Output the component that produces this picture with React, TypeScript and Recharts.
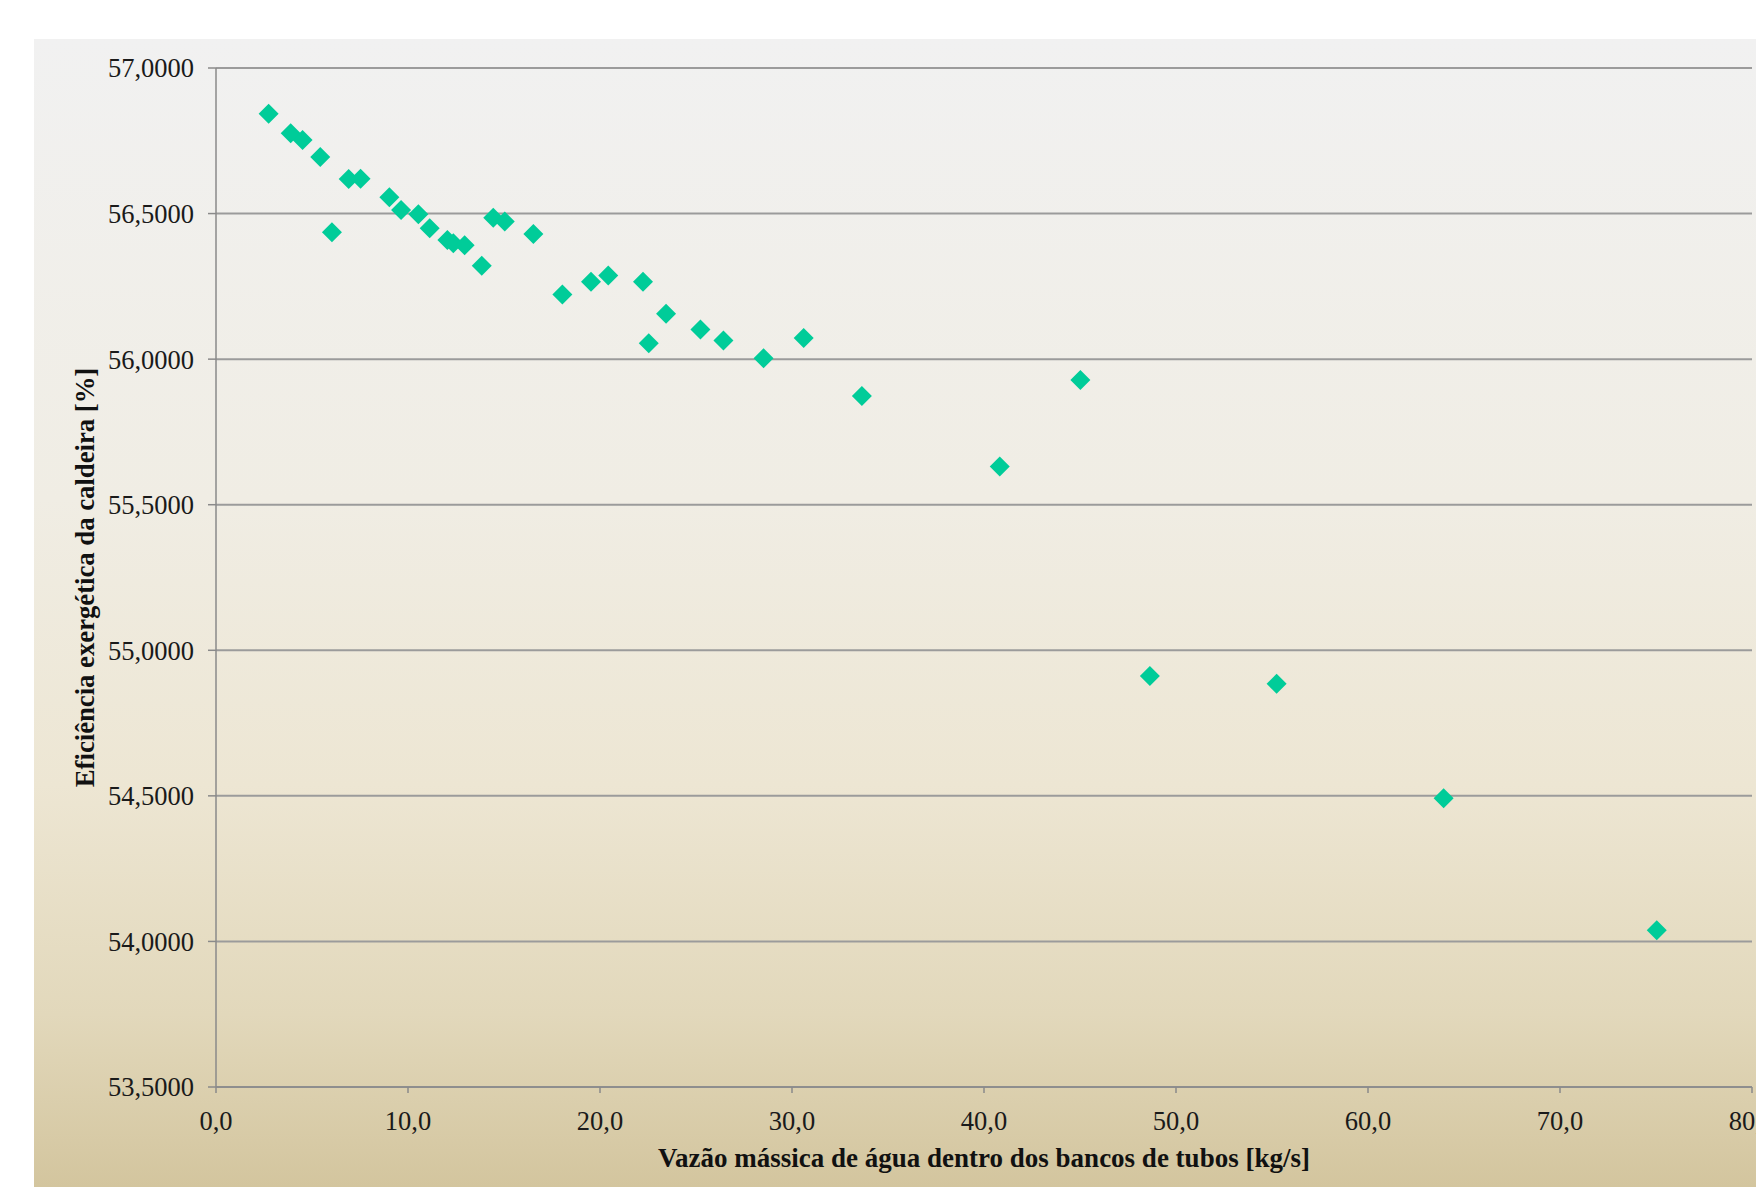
import React from "react";
import { ScatterChart, Scatter, XAxis, YAxis, CartesianGrid, Label } from "recharts";

// vazão mássica [kg/s]
const flowRates = [
  2.74, 3.89, 4.51, 5.43, 6.04, 6.91, 7.53, 9.03, 9.64, 10.54, 11.13, 12.05,
  12.36, 12.95, 13.84, 14.44, 15.04, 16.53, 18.04, 19.53, 20.43, 22.24, 22.54,
  23.44, 25.23, 26.43, 28.52, 30.61, 33.64, 40.82, 45.02, 48.64, 55.24, 63.94,
  75.04,
];

// eficiência exergética [%]
const efficiencies = [
  56.843, 56.776, 56.753, 56.694, 56.436, 56.619, 56.62, 56.556, 56.512,
  56.498, 56.45, 56.409, 56.398, 56.391, 56.321, 56.486, 56.473, 56.43, 56.222,
  56.266, 56.287, 56.266, 56.055, 56.156, 56.102, 56.064, 56.003, 56.073,
  55.873, 55.631, 55.928, 54.912, 54.885, 54.492, 54.038,
];

const xTicks = [0, 10, 20, 30, 40, 50, 60, 70, 80];
const yTicks = [53.5, 54, 54.5, 55, 55.5, 56, 56.5, 57];

const data = flowRates.map((x, i) => ({ x, y: efficiencies[i] }));

const FONT = '"Liberation Serif", "Times New Roman", serif';
const GRID = "#9b9b9b";
const AXIS = "#8a8a8a";

const Diamond = (props: any) => {
  const { cx, cy } = props;
  const r = 10;
  return (
    <polygon
      points={`${cx},${cy - r} ${cx + r},${cy} ${cx},${cy + r} ${cx - r},${cy}`}
      fill="#00cc99"
    />
  );
};

const YTitle = (props: any) => {
  const { viewBox } = props;
  const cy = viewBox.y + viewBox.height / 2;
  return (
    <text
      x={51}
      y={cy}
      transform={`rotate(-90, 51, ${cy})`}
      textAnchor="middle"
      dominantBaseline="central"
      fontFamily={FONT}
      fontWeight="bold"
      fontSize={26.7}
      fill="#111"
    >
      Eficiência exergética da caldeira [%]
    </text>
  );
};

const XTitle = (props: any) => {
  const { viewBox } = props;
  const cx = viewBox.x + viewBox.width / 2;
  return (
    <text
      x={cx}
      y={1128}
      textAnchor="middle"
      fontFamily={FONT}
      fontWeight="bold"
      fontSize={27}
      fill="#111"
    >
      Vazão mássica de água dentro dos bancos de tubos [kg/s]
    </text>
  );
};

export default function App() {
  return (
    <div style={{ position: "absolute", left: 0, top: 0, width: 1756, height: 1187, background: "#fff", overflow: "hidden" }}>
      <div
        style={{
          position: "absolute",
          left: 34,
          top: 39,
          width: 1722,
          height: 1148,
          background:
            "linear-gradient(to bottom, #f1f1f1 0%, #f0ede4 40%, #ede6d3 65%, #e2d8bb 85%, #d3c59e 100%)",
        }}
      >
        <ScatterChart width={1722} height={1148} margin={{ top: 29, right: 4, left: 0, bottom: 0 }}>
          <CartesianGrid vertical={false} stroke={GRID} strokeWidth={2} />
          <XAxis
            type="number"
            dataKey="x"
            domain={[0, 80]}
            ticks={xTicks}
            interval={0}
            height={100}
            tickFormatter={(v: number) => v.toFixed(1).replace(".", ",")}
            tick={{ fill: "#1a1a1a", fontSize: 26.5, fontFamily: FONT }}
            tickSize={6}
            tickMargin={18}
            stroke={AXIS}
            strokeWidth={1.5}
          >
            <Label content={XTitle} />
          </XAxis>
          <YAxis
            type="number"
            dataKey="y"
            domain={[53.5, 57]}
            ticks={yTicks}
            interval={0}
            width={182}
            tickFormatter={(v: number) => v.toFixed(4).replace(".", ",")}
            tick={{ fill: "#1a1a1a", fontSize: 26.5, fontFamily: FONT }}
            tickSize={8}
            tickMargin={14}
            stroke={AXIS}
            strokeWidth={1.5}
          >
            <Label content={YTitle} />
          </YAxis>
          <Scatter data={data} shape={Diamond} isAnimationActive={false} />
        </ScatterChart>
      </div>
    </div>
  );
}
